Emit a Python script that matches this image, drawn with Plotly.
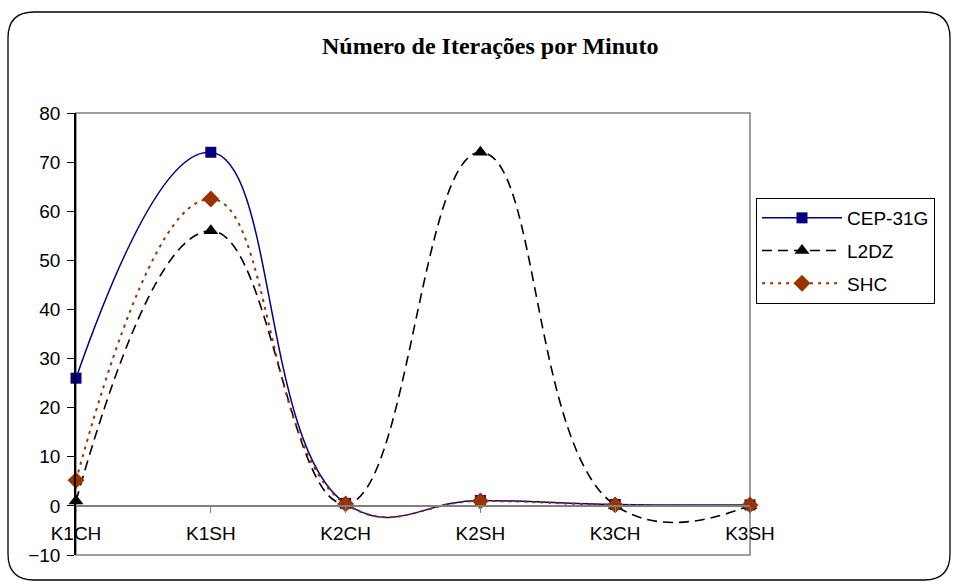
import plotly.graph_objects as go

categories = ["K1CH", "K1SH", "K2CH", "K2SH", "K3CH", "K3SH"]
cep_31g = [26, 72, 0.5, 1.1, 0.3, 0.2]
l2dz = [1, 56, 0.4, 72, 0.1, 0.1]
shc = [5.2, 62.5, 0.4, 1.0, 0.2, 0.2]
y_ticks = [-10, 0, 10, 20, 30, 40, 50, 60, 70, 80]

W, H = 957, 587
L, R, T, B = 76, 750, 113, 555


def px(x):
    return (x - L) / (R - L)


def py(y):
    return (B - y) / (B - T)


FONT = "Liberation Sans, Arial, sans-serif"

fig = go.Figure()
fig.add_trace(go.Scatter(
    x=categories, y=cep_31g, name="CEP-31G", mode="lines+markers",
    line=dict(color="#000080", width=1.5, shape="spline", smoothing=1.3),
    marker=dict(symbol="square", size=11, color="#000080"),
    cliponaxis=False, legendgroup="a"))
fig.add_trace(go.Scatter(
    x=categories, y=l2dz, name="L2DZ", mode="lines+markers",
    line=dict(color="#000000", width=1.6, dash="10px,6px", shape="spline", smoothing=1.3),
    marker=dict(symbol="triangle-up", size=13, color="#000000"),
    cliponaxis=False, legendgroup="b"))
fig.add_trace(go.Scatter(
    x=categories, y=shc, name="SHC", mode="lines+markers",
    line=dict(color="#993300", width=2, dash="3px,5px", shape="spline", smoothing=1.3),
    marker=dict(symbol="diamond", size=13, color="#993300"),
    cliponaxis=False, legendgroup="c"))

# rounded outer border
x0, x1, y0, y1, r = 8, 950, 12, 580, 26
path = (
    f"M {px(x0 + r)} {py(y0)} L {px(x1 - r)} {py(y0)} "
    f"Q {px(x1)} {py(y0)} {px(x1)} {py(y0 + r)} "
    f"L {px(x1)} {py(y1 - r)} Q {px(x1)} {py(y1)} {px(x1 - r)} {py(y1)} "
    f"L {px(x0 + r)} {py(y1)} Q {px(x0)} {py(y1)} {px(x0)} {py(y1 - r)} "
    f"L {px(x0)} {py(y0 + r)} Q {px(x0)} {py(y0)} {px(x0 + r)} {py(y0)} Z"
)

shapes = [
    dict(type="path", path=path, xref="paper", yref="paper",
         line=dict(color="#000000", width=1.3), layer="below"),
    dict(type="rect", xref="paper", yref="paper", x0=0, x1=1, y0=0, y1=1,
         line=dict(color="#808080", width=1.5), layer="below"),
]

zero_pos = 10 / 90  # paper position of y=0 within plot area

fig.update_layout(
    width=W, height=H,
    margin=dict(l=L, r=W - R, t=T, b=H - B, pad=0),
    paper_bgcolor="white", plot_bgcolor="white",
    font=dict(family=FONT, size=19, color="#000000"),
    showlegend=True,
    legend=dict(x=px(756), y=py(198), xanchor="left", yanchor="top",
                bordercolor="#000000", borderwidth=1, bgcolor="white",
                font=dict(family=FONT, size=19), itemwidth=80,
                tracegroupgap=5),
    shapes=shapes,
    annotations=[dict(text="<b>Número de Iterações por Minuto</b>",
                      x=px(490), y=py(46), xref="paper", yref="paper",
                      showarrow=False, xanchor="center", yanchor="middle",
                      font=dict(family="Liberation Serif, Times New Roman, serif", size=24))],
    xaxis=dict(type="category", range=[0, 5], anchor="free", position=zero_pos,
               showline=True, linecolor="#808080", linewidth=1.5,
               ticks="outside", ticklen=6, tickcolor="#808080", tickwidth=1,
               showgrid=False, zeroline=False, ticklabelstandoff=5,
               tickfont=dict(family=FONT, size=19)),
    yaxis=dict(range=[-10, 80], tickvals=y_ticks, showline=True,
               linecolor="#000000", linewidth=1.5, ticks="outside", ticklen=7,
               tickcolor="#000000", showgrid=False, zeroline=False,
               ticklabelstandoff=3,
               tickfont=dict(family=FONT, size=19)),
)

fig.write_html("out.html")
